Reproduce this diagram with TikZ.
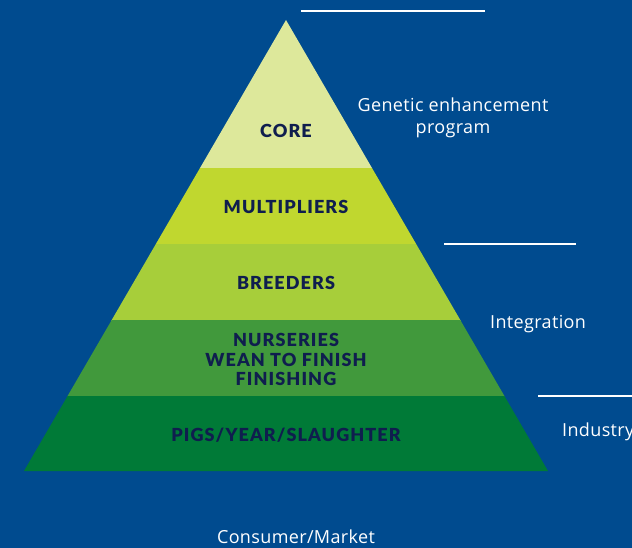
\documentclass[tikz,border=0pt]{standalone}
\usepackage{fontspec}
\setmainfont{Open Sans}
\newfontfamily\tierfont{Lato Black}[LetterSpace=6]
\newfontfamily\sidefont{Open Sans}[LetterSpace=2]
\definecolor{bgblue}{HTML}{004B8F}
\definecolor{corecol}{HTML}{DDE89B}
\definecolor{multcol}{HTML}{C0D72F}
\definecolor{breedcol}{HTML}{A7CE3A}
\definecolor{nurscol}{HTML}{41993C}
\definecolor{pigcol}{HTML}{007A37}
\definecolor{navy}{HTML}{0F1E4E}
\tikzset{
  tier/.style={anchor=base, text=navy, font=\tierfont\fontsize{18}{19.5}\selectfont, align=center, inner sep=0pt},
  side/.style={anchor=base, text=white, font=\sidefont\fontsize{18}{22.5}\selectfont, inner sep=0pt},
  rule/.style={draw=white, line width=1.2pt}
}
\begin{document}
\begin{tikzpicture}[x=1pt, y=-1pt]
  % page and background
  \fill[bgblue] (0,0) rectangle (632,548);
  \useasboundingbox (0,0) rectangle (632,548);

  % pyramid outline points
  \coordinate (apex) at (286,20);
  \coordinate (bl) at (24,471);
  \coordinate (br) at (548,471);

  % coloured tiers clipped to the triangle
  \begin{scope}
    \clip (apex) -- (br) -- (bl) -- cycle;
    \fill[corecol]  (0,0)   rectangle (632,168.5);
    \fill[multcol]  (0,168) rectangle (632,244.5);
    \fill[breedcol] (0,244) rectangle (632,320.5);
    \fill[nurscol]  (0,320) rectangle (632,396.5);
    \fill[pigcol]   (0,396) rectangle (632,472);
  \end{scope}

  % tier labels (multi-line nodes sit on their last baseline)
  \node[tier] (core)  at (286,138) {CORE};
  \node[tier] (mult)  at (286,214) {MULTIPLIERS};
  \node[tier] (breed) at (286,289.5) {BREEDERS};
  \node[tier] (nurs)  at (286,385.7) {NURSERIES\\WEAN TO FINISH\\FINISHING};
  \node[tier] (pigs)  at (286,441) {PIGS/YEAR/SLAUGHTER};

  % divider rules
  \coordinate (r1a) at (301,11);  \coordinate (r1b) at (485,11);
  \coordinate (r2a) at (444,244); \coordinate (r2b) at (576,244);
  \coordinate (r3a) at (538,396); \coordinate (r3b) at (632,396);
  \draw[rule] (r1a) -- (r1b);
  \draw[rule] (r2a) -- (r2b);
  \draw[rule] (r3a) -- (r3b);

  % side labels
  \node[side, align=center] (gen) at (453,134) {Genetic enhancement\\program};
  \node[side, anchor=base west] (integ) at (490,328) {Integration};
  \node[side, anchor=base west] (indus) at (562,436) {Industry};
  \node[side] (cons) at (296,543) {Consumer/Market};
\end{tikzpicture}
\end{document}
